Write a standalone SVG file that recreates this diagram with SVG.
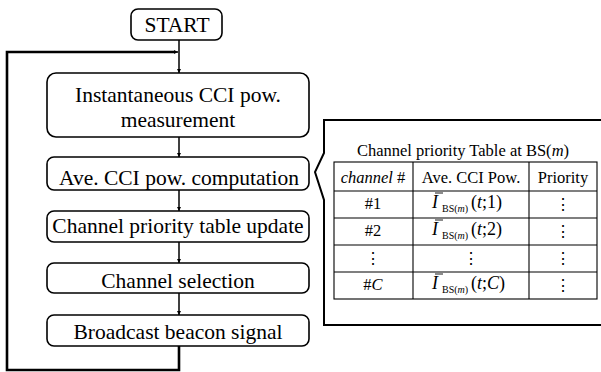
<svg xmlns="http://www.w3.org/2000/svg" width="601" height="372" viewBox="0 0 601 372">
  <defs>
    <marker id="arr" viewBox="0 0 10 10" refX="10" refY="5" markerWidth="4" markerHeight="4" orient="auto" markerUnits="userSpaceOnUse">
      <path d="M0,0 L10,5 L0,10 z" fill="#000"/>
    </marker>
    <style>
      .box { fill: #fff; stroke: #000; stroke-width: 1.6; }
      .ft { font-family: "Liberation Serif", "Times New Roman", serif; font-size: 21.5px; fill: #000; text-anchor: middle; }
      .tt { font-family: "Liberation Serif", "Times New Roman", serif; font-size: 16.5px; fill: #000; text-anchor: middle; }
      .mi { font-family: "Liberation Serif", "Times New Roman", serif; font-size: 18px; fill: #000; }
      .sub { font-family: "Liberation Serif", "Times New Roman", serif; font-size: 10px; fill: #000; }
      .it { font-style: italic; }
      .bar { stroke: #000; stroke-width: 0.9; }
      .link { fill: none; stroke: #000; stroke-width: 1.5; }
      .loop { fill: none; stroke: #000; stroke-width: 2.6; }
      .grid { stroke: #000; stroke-width: 1.1; fill: none; }
      .dots { font-family: "DejaVu Serif", "Liberation Serif", serif; font-size: 16px; fill: #000; text-anchor: middle; }
    </style>
  </defs>

  <rect width="601" height="372" fill="#fff"/>

  <!-- connectors -->
  <g id="connectors">
    <line class="link" x1="179" y1="40" x2="179" y2="73" marker-end="url(#arr)"/>
    <polyline class="loop" points="179,346 179,370 7,370 7,52 174,52"/>
    <line class="link" x1="170" y1="52" x2="178" y2="52" marker-end="url(#arr)"/>
    <line class="link" x1="179" y1="137" x2="179" y2="157" marker-end="url(#arr)"/>
    <line class="link" x1="179" y1="190" x2="179" y2="211" marker-end="url(#arr)"/>
    <line class="link" x1="179" y1="242" x2="179" y2="263" marker-end="url(#arr)"/>
    <line class="link" x1="179" y1="293" x2="179" y2="315" marker-end="url(#arr)"/>
  </g>

  <!-- flowchart steps -->
  <g id="start">
    <rect class="box" x="131" y="9" width="91" height="31" rx="7"/>
    <text class="ft" x="177" y="32">START</text>
  </g>
  <g id="measure">
    <rect class="box" x="47" y="73" width="262" height="64" rx="9"/>
    <text class="ft" x="178" y="102">Instantaneous CCI pow.</text>
    <text class="ft" x="178" y="127">measurement</text>
  </g>
  <g id="average">
    <rect class="box" x="47" y="157" width="262" height="33" rx="7"/>
    <text class="ft" x="179" y="185">Ave. CCI pow. computation</text>
  </g>
  <g id="update">
    <rect class="box" x="47" y="211" width="262" height="31" rx="7"/>
    <text class="ft" x="178" y="233">Channel priority table update</text>
  </g>
  <g id="select">
    <rect class="box" x="47" y="263" width="262" height="30" rx="7"/>
    <text class="ft" x="178" y="288">Channel selection</text>
  </g>
  <g id="beacon">
    <rect class="box" x="47" y="315" width="262" height="31" rx="7"/>
    <text class="ft" x="178" y="339">Broadcast beacon signal</text>
  </g>

  <!-- priority table callout -->
  <g id="priority-table">
    <path d="M601,120 H324 V153 L315,172 L324,200 V325 H601" fill="#fff" stroke="#000" stroke-width="2"/>
    <text class="tt" x="463" y="156">Channel priority Table at BS(<tspan class="it">m</tspan>)</text>

    <rect class="grid" x="334" y="162" width="263" height="137"/>
    <line class="grid" x1="413" y1="162" x2="413" y2="299"/>
    <line class="grid" x1="529" y1="162" x2="529" y2="299"/>
    <line class="grid" x1="334" y1="191" x2="597" y2="191"/>
    <line class="grid" x1="334" y1="218" x2="597" y2="218"/>
    <line class="grid" x1="334" y1="245" x2="597" y2="245"/>
    <line class="grid" x1="334" y1="272" x2="597" y2="272"/>

    <text class="tt" x="373" y="183"><tspan class="it">channel</tspan> #</text>
    <text class="tt" x="471" y="183">Ave. CCI Pow.</text>
    <text class="tt" x="563" y="183">Priority</text>

    <text class="tt" x="373" y="209">#1</text>
    <text class="tt" x="373" y="236">#2</text>
    <text class="dots" x="373" y="264">⋮</text>
    <text class="tt" x="373" y="290">#<tspan class="it">C</tspan></text>

    <!-- averaged interference terms -->
    <g>
      <line class="bar" x1="435" y1="193" x2="443" y2="193"/>
      <text class="mi it" x="432" y="208">I</text>
      <text class="sub" x="442" y="212">BS(<tspan class="it">m</tspan>)</text>
      <text class="mi" x="471" y="208">(<tspan class="it">t</tspan>;1)</text>
    </g>
    <g>
      <line class="bar" x1="435" y1="220" x2="443" y2="220"/>
      <text class="mi it" x="432" y="235">I</text>
      <text class="sub" x="442" y="239">BS(<tspan class="it">m</tspan>)</text>
      <text class="mi" x="471" y="235">(<tspan class="it">t</tspan>;2)</text>
    </g>
    <text class="dots" x="471" y="264">⋮</text>
    <g>
      <line class="bar" x1="435" y1="274" x2="443" y2="274"/>
      <text class="mi it" x="432" y="289">I</text>
      <text class="sub" x="442" y="293">BS(<tspan class="it">m</tspan>)</text>
      <text class="mi" x="471" y="289">(<tspan class="it">t</tspan>;<tspan class="it">C</tspan>)</text>
    </g>

    <text class="dots" x="563" y="210">⋮</text>
    <text class="dots" x="563" y="237">⋮</text>
    <text class="dots" x="563" y="264">⋮</text>
    <text class="dots" x="563" y="291">⋮</text>
  </g>
</svg>
